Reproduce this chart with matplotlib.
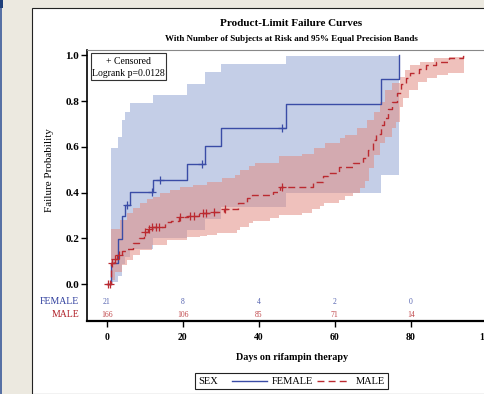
import numpy as np
import matplotlib
matplotlib.use('Agg')
import matplotlib.pyplot as plt
from matplotlib.lines import Line2D
from matplotlib.patches import Rectangle

plt.rcParams['font.family'] = ['Liberation Serif', 'DejaVu Serif']

# FEMALE: product-limit failure curve
f_time = [0, 1.1, 3.1, 3.9, 4.8, 6.1, 12.1, 21.0, 25.9, 30.1, 47.1, 72.1, 77.0]
f_fail = [0, 0.095, 0.197, 0.298, 0.346, 0.402, 0.455, 0.526, 0.604, 0.683, 0.787, 0.895, 1.0]
f_cens = [5.3, 12.0, 14.1, 25.0, 46.1]
# FEMALE: 95% equal precision band
f_band_t = [1.1, 3.1, 4.0, 4.9, 6.1, 12.1, 21.0, 25.9, 30.1, 47.1, 72.1]
f_band_hi = [0.594, 0.642, 0.717, 0.754, 0.793, 0.827, 0.875, 0.926, 0.961, 0.995, 0.995]
f_band_lo = [0.011, 0.035, 0.09, 0.12, 0.155, 0.20, 0.235, 0.284, 0.339, 0.40, 0.477]
f_band_end = 77.0

# MALE: product-limit failure curve
m_time = [0, 1.1, 1.8, 2.6, 4.0, 5.4, 6.8, 8.5, 9.8, 10.8, 11.8, 15.3, 17.0, 19.0,
          21.5, 24.3, 27.7, 30.8, 34.6, 36.8, 38.3, 43.8, 45.5, 54.2, 56.8, 58.2,
          61.2, 64.7, 67.3, 68.7, 70.0, 70.9, 72.2, 73.0, 74.0, 75.1, 76.3, 77.3,
          78.6, 79.9, 82.2, 84.0, 86.6, 90.0, 93.6, 93.9]
m_fail = [0, 0.092, 0.109, 0.128, 0.145, 0.156, 0.179, 0.201, 0.227, 0.240, 0.250,
          0.271, 0.278, 0.293, 0.298, 0.313, 0.317, 0.327, 0.354, 0.375, 0.390,
          0.404, 0.424, 0.448, 0.473, 0.485, 0.514, 0.528, 0.550, 0.587, 0.630,
          0.655, 0.696, 0.728, 0.765, 0.797, 0.836, 0.874, 0.902, 0.921, 0.940,
          0.958, 0.972, 0.987, 0.998, 0.998]
m_cens = [0.3, 1.0, 1.5, 2.1, 3.2, 10.1, 11.1, 12.0, 13.0, 13.8, 19.3, 21.9, 23.0,
          25.3, 26.0, 28.1, 31.1, 46.0]
# MALE: 95% equal precision band
m_hi_t = [1.1, 3.5, 5.3, 7.0, 8.8, 10.5, 12.3, 14.0, 16.7, 19.3, 22.8, 26.3, 30.3,
          33.8, 35.1, 37.3, 39.0, 45.2, 51.3, 54.4, 57.4, 61.4, 62.7, 65.8, 68.4,
          70.2, 71.9, 73.2, 75.0, 77.2, 78.5, 79.8, 82.4, 86.0, 90.0]
m_hi = [0.24, 0.28, 0.31, 0.333, 0.354, 0.372, 0.383, 0.397, 0.41, 0.423, 0.434,
        0.446, 0.463, 0.477, 0.50, 0.517, 0.528, 0.56, 0.568, 0.594, 0.618, 0.638,
        0.652, 0.681, 0.717, 0.754, 0.797, 0.848, 0.878, 0.907, 0.936, 0.958,
        0.972, 0.987, 0.994]
m_lo_t = [1.1, 2.2, 3.9, 5.3, 7.0, 8.8, 11.8, 15.8, 21.0, 24.6, 26.3, 28.9, 30.3,
          34.2, 35.1, 37.3, 38.6, 43.0, 45.2, 51.3, 53.9, 56.1, 57.2, 61.0, 62.7,
          64.9, 66.7, 68.0, 69.1, 70.2, 71.9, 73.2, 75.0, 76.1, 77.2, 78.0, 79.4,
          82.0, 84.2, 86.8, 89.9]
m_lo = [0.019, 0.055, 0.084, 0.106, 0.128, 0.15, 0.172, 0.193, 0.208, 0.211, 0.215,
        0.223, 0.225, 0.237, 0.252, 0.266, 0.276, 0.288, 0.303, 0.31, 0.328, 0.342,
        0.354, 0.368, 0.386, 0.40, 0.42, 0.45, 0.506, 0.565, 0.616, 0.645, 0.681,
        0.71, 0.776, 0.812, 0.848, 0.885, 0.9, 0.914, 0.924]
m_band_end = 94.0

# number at risk
risk_t = [0, 20, 40, 60, 80]
risk_f = [21, 8, 4, 2, 0]
risk_m = [166, 106, 85, 71, 14]

BLUE = '#3a4ca6'
RED = '#bb2a30'
W, H = 484, 394


def step_xy(t, v, t_end):
    xs, ys = [], []
    for i in range(len(t)):
        nxt = t[i + 1] if i + 1 < len(t) else t_end
        xs += [t[i], nxt]
        ys += [v[i], v[i]]
    return xs, ys


def fx(px):
    return px / W


def fy(py):
    return 1 - py / H


def at_value(t, v, x):
    i = np.searchsorted(t, x, side='right') - 1
    return v[i]


fig = plt.figure(figsize=(4.84, 3.94), dpi=100)
fig.patch.set_facecolor('#ece9e0')
# white output panel of the window
fig.patches.append(Rectangle((fx(32), 0), 1, fy(7.5), transform=fig.transFigure,
                             facecolor='white', edgecolor='#222222', lw=0.8, zorder=-2))
fig.lines.append(Line2D([fx(1), fx(1)], [0, 1], transform=fig.transFigure,
                        color='#3a5a9a', lw=1.2, zorder=-1))
fig.patches.append(Rectangle((0, fy(8)), fx(3), 1, transform=fig.transFigure,
                             facecolor='#1f3f7a', edgecolor='none', zorder=-1))

ax = fig.add_axes([fx(87), fy(320.7), (496 - 87) / W, (320.7 - 49.5) / H])
ax.set_zorder(0)
ax.set_xlim(-5.18, 102.4)
ax.set_ylim(-0.159, 1.0253)
ax.set_facecolor('none')

# bands
bx, by = step_xy(f_band_t, f_band_hi, f_band_end)
lx, ly = step_xy(f_band_t, f_band_lo, f_band_end)
ax.fill(bx + lx[::-1], by + ly[::-1], color='#c4cee7', lw=0, zorder=1)
bx, by = step_xy(m_hi_t, m_hi, m_band_end)
lx, ly = step_xy(m_lo_t, m_lo, m_band_end)
ax.fill(bx + lx[::-1], by + ly[::-1], color='#e2897f', alpha=0.52, lw=0, zorder=2)

# curves
ax.step(f_time, f_fail, where='post', color=BLUE, lw=1.0, zorder=3)
ax.step(m_time, m_fail, where='post', color=RED, lw=1.0, ls=(0, (5, 3)), zorder=4)
ax.plot(f_cens, [at_value(f_time, f_fail, c) for c in f_cens], '+', color=BLUE,
        ms=6, mew=0.9, zorder=5)
ax.plot(m_cens, [at_value(m_time, m_fail, c) for c in m_cens], '+', color=RED,
        ms=6, mew=0.9, zorder=5)

# number at risk
for t, a, b in zip(risk_t, risk_f, risk_m):
    ax.text(t, -0.077, str(a), color='#5563b0', fontsize=5.5, ha='center', va='center')
    ax.text(t, -0.134, str(b), color='#c0474a', fontsize=5.5, ha='center', va='center')
ax.text(-7.2, -0.077, 'FEMALE', color='#2f3f9e', fontsize=7, ha='right', va='center',
        clip_on=False)
ax.text(-7.2, -0.134, 'MALE', color='#b01e26', fontsize=7, ha='right', va='center',
        clip_on=False)

ax.set_xticks([0, 20, 40, 60, 80, 100])
ax.set_yticks([0, 0.2, 0.4, 0.6, 0.8, 1.0])
ax.set_yticklabels(['0.0', '0.2', '0.4', '0.6', '0.8', '1.0'])
ax.tick_params(axis='x', length=4, width=1, pad=5, labelsize=7)
ax.tick_params(axis='y', length=4, width=1, pad=1.5, labelsize=8)
for lab in ax.get_xticklabels() + ax.get_yticklabels():
    lab.set_fontweight('bold')
ax.spines['left'].set_linewidth(1.2)
ax.spines['bottom'].set_linewidth(1.6)
ax.spines['top'].set_color('#888888')
ax.spines['top'].set_linewidth(0.8)

fig.text(fx(50), fy(170), 'Failure Probability', rotation=90, fontsize=8,
         ha='center', va='center')
fig.text(fx(291.7), fy(357), 'Days on rifampin therapy', fontsize=7.3,
         fontweight='bold', ha='center', va='center')
fig.text(fx(291), fy(24), 'Product-Limit Failure Curves', fontsize=8,
         fontweight='bold', ha='center', va='center')
fig.text(fx(291), fy(39), 'With Number of Subjects at Risk and 95% Equal Precision Bands',
         fontsize=6.5, fontweight='bold', ha='center', va='center')

# censor / logrank inset box
fig.patches.append(Rectangle((fx(90.7), fy(80.3)), (166 - 90.7) / W, (80.3 - 52.7) / H,
                             transform=fig.transFigure, facecolor='white',
                             edgecolor='#333333', lw=0.8, zorder=1))
fig.text(fx(128.3), fy(61), '+ Censored', fontsize=7, ha='center', va='center', zorder=3)
fig.text(fx(128.3), fy(73.5), 'Logrank p=0.0128', fontsize=7, ha='center', va='center',
         zorder=3)

# bottom legend
fig.patches.append(Rectangle((fx(195), fy(389)), (388 - 195) / W, (389 - 372.5) / H,
                             transform=fig.transFigure, facecolor='white',
                             edgecolor='#222222', lw=0.8, zorder=1))
fig.text(fx(198), fy(381), 'SEX', fontsize=7.5, ha='left', va='center')
fig.lines.append(Line2D([fx(232), fx(267)], [fy(381), fy(381)], transform=fig.transFigure,
                        color=BLUE, lw=1.0, zorder=2))
fig.text(fx(272), fy(381), 'FEMALE', fontsize=7.5, ha='left', va='center')
fig.lines.append(Line2D([fx(317), fx(350)], [fy(381), fy(381)], transform=fig.transFigure,
                        color=RED, lw=1.0, ls=(0, (5, 3)), zorder=2))
fig.text(fx(356), fy(381), 'MALE', fontsize=7.5, ha='left', va='center')

fig.savefig('out.png', dpi=100)
